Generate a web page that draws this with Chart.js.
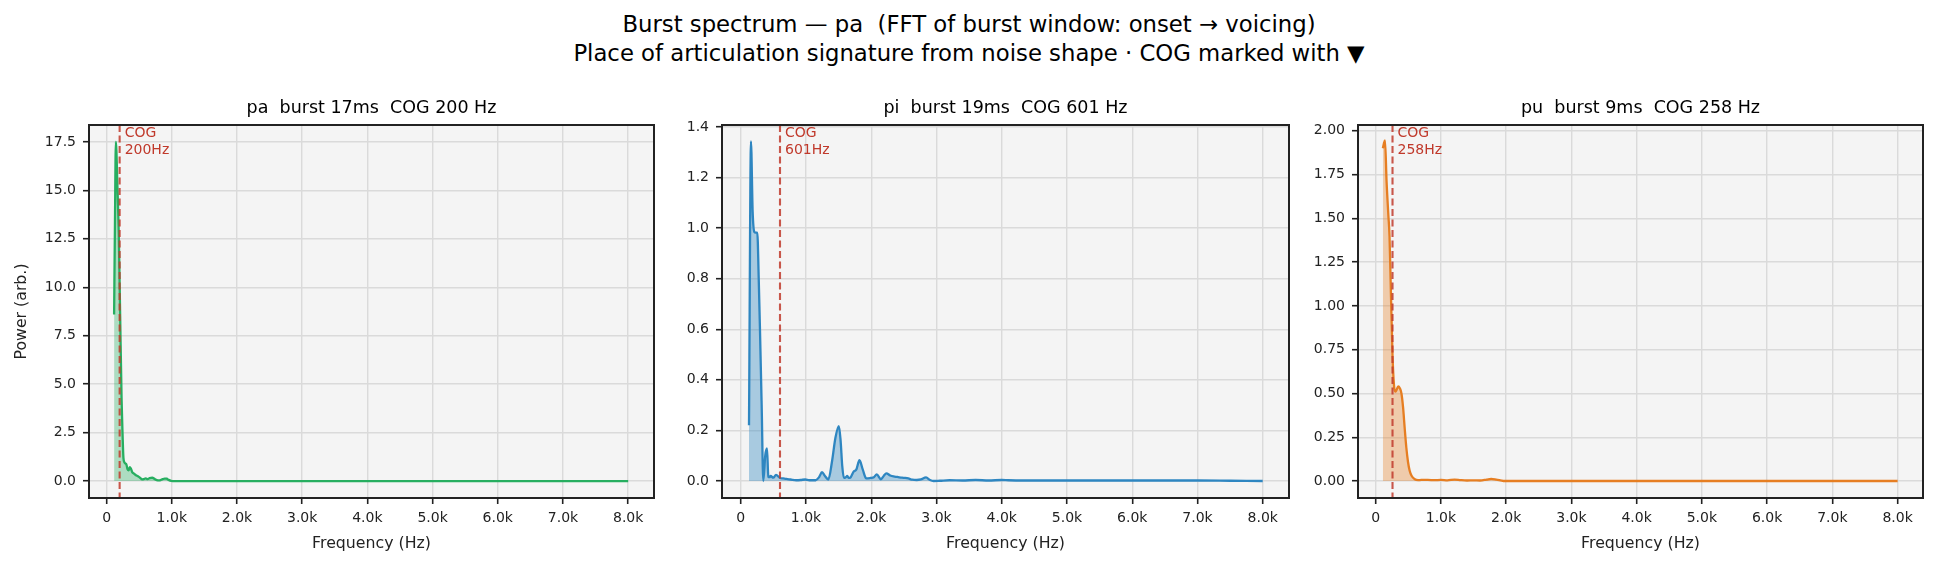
<!DOCTYPE html>
<html><head><meta charset="utf-8">
<script src="https://cdn.jsdelivr.net/npm/chart.js@4.4.1/dist/chart.umd.min.js"></script>
<style>
html,body{margin:0;padding:0;background:#fff;}
#fig{position:relative;width:1938px;height:569px;overflow:hidden;font-family:'DejaVu Sans',sans-serif;background:#fff;}
#suptitle{position:absolute;left:0;top:9.6px;width:1938px;text-align:center;font-size:22.75px;line-height:29px;color:#000;white-space:pre;}
.pane{position:absolute;top:0;height:569px;}
canvas{display:block;}
</style></head><body>
<div id="fig">
<div id="suptitle">Burst spectrum — pa  (FFT of burst window: onset → voicing)
Place of articulation signature from noise shape · COG marked with ▼</div>
<div class="pane" style="left:0px;width:680px"><canvas id="c0" width="680" height="569"></canvas></div>
<div class="pane" style="left:680px;width:620px"><canvas id="c1" width="620" height="569"></canvas></div>
<div class="pane" style="left:1300px;width:638px"><canvas id="c2" width="638" height="569"></canvas></div>
</div>
<script>
// ---- data ----
const titles = ['pa  burst 17ms  COG 200 Hz', 'pi  burst 19ms  COG 601 Hz', 'pu  burst 9ms  COG 258 Hz'];
const cogHz = [200, 601, 258];
const cogLabels = ['200Hz', '601Hz', '258Hz'];

const paFreq  = [115, 128, 142, 166, 187, 208, 230, 245, 258, 275, 290, 304, 322, 338, 355, 372, 395, 420, 450, 480, 510, 540, 570, 600, 630, 660, 700, 740, 770, 800, 830, 860, 890, 922, 950, 990, 1050, 1200, 1500, 2000, 2500, 3000, 4000, 5000, 6000, 7000, 8000];
const paPower = [8.6, 13.2, 17.5, 15.2, 12.7, 8.5, 4.2, 2.4, 1.2, 0.95, 0.9, 0.85, 0.6, 0.55, 0.72, 0.65, 0.45, 0.38, 0.3, 0.25, 0.18, 0.09, 0.1, 0.14, 0.1, 0.15, 0.17, 0.1, 0.05, 0.03, 0.05, 0.1, 0.13, 0.12, 0.06, 0.01, 0.0, 0.0, 0.0, 0.0, 0.0, 0.0, 0.0, 0.0, 0.0, 0.0, 0.0];

const piFreq  = [126, 156, 182, 207, 228, 253, 275, 294, 320, 345, 376, 402, 422, 440, 458, 498, 540, 601, 650, 700, 761, 850, 920, 987, 1050, 1148, 1200, 1245, 1290, 1342, 1400, 1450, 1503, 1530, 1555, 1581, 1610, 1632, 1655, 1677, 1729, 1770, 1819, 1870, 1923, 1987, 2040, 2084, 2148, 2190, 2232, 2290, 2342, 2400, 2471, 2520, 2568, 2630, 2697, 2760, 2839, 2900, 2955, 3050, 3200, 3400, 3600, 3800, 4000, 4100, 4300, 4600, 5000, 5500, 6000, 6500, 7000, 7500, 8000];
const piPower = [0.22, 1.343, 1.064, 0.985, 0.982, 0.982, 0.8, 0.6, 0.3, 0.0, 0.103, 0.129, 0.017, 0.015, 0.02, 0.013, 0.024, 0.012, 0.01, 0.008, 0.006, 0.003, 0.004, 0.006, 0.003, 0.003, 0.015, 0.035, 0.02, 0.006, 0.08, 0.17, 0.217, 0.16, 0.06, 0.012, 0.015, 0.02, 0.012, 0.013, 0.037, 0.045, 0.082, 0.045, 0.01, 0.012, 0.015, 0.026, 0.007, 0.02, 0.03, 0.022, 0.018, 0.016, 0.013, 0.012, 0.01, 0.005, 0.004, 0.006, 0.014, 0.004, 0.0, 0.001, 0.003, 0.002, 0.004, 0.002, 0.004, 0.003, 0.002, 0.002, 0.002, 0.002, 0.002, 0.002, 0.002, 0.001, 0.0];

const puFreq  = [110, 125, 143, 167, 194, 212, 235, 258, 280, 300, 320, 345, 370, 395, 420, 445, 470, 495, 520, 550, 600, 650, 700, 800, 900, 1000, 1100, 1210, 1300, 1400, 1500, 1600, 1700, 1770, 1850, 1960, 2200, 3000, 4000, 5000, 6000, 7000, 8000];
const puPower = [1.90, 1.925, 1.945, 1.71, 1.52, 1.40, 1.05, 0.72, 0.55, 0.51, 0.52, 0.54, 0.53, 0.50, 0.42, 0.30, 0.19, 0.11, 0.06, 0.03, 0.01, 0.005, 0.006, 0.006, 0.005, 0.006, 0.004, 0.008, 0.005, 0.003, 0.004, 0.003, 0.008, 0.012, 0.008, 0.0, 0.0, 0.0, 0.0, 0.0, 0.0, 0.0, 0.0];

const xTickValues = [0, 1000, 2000, 3000, 4000, 5000, 6000, 7000, 8000];
const xTickLabels = ['0', '1.0k', '2.0k', '3.0k', '4.0k', '5.0k', '6.0k', '7.0k', '8.0k'];
const paYTicks = [0, 2.5, 5, 7.5, 10, 12.5, 15, 17.5];
const paYLabels = ['0.0', '2.5', '5.0', '7.5', '10.0', '12.5', '15.0', '17.5'];
const piYTicks = [0, 0.2, 0.4, 0.6, 0.8, 1.0, 1.2, 1.4];
const piYLabels = ['0.0', '0.2', '0.4', '0.6', '0.8', '1.0', '1.2', '1.4'];
const puYTicks = [0, 0.25, 0.5, 0.75, 1.0, 1.25, 1.5, 1.75, 2.0];
const puYLabels = ['0.00', '0.25', '0.50', '0.75', '1.00', '1.25', '1.50', '1.75', '2.00'];

// ---- rendering ----
Chart.defaults.font.family = "'DejaVu Sans', sans-serif";
Chart.defaults.animation = false;

const FONT = "'DejaVu Sans', sans-serif";

const framePlugin = {
  id: 'frame',
  beforeDraw(chart) {
    const {ctx, chartArea: a} = chart;
    ctx.save();
    ctx.fillStyle = '#f4f4f4';
    ctx.fillRect(a.left, a.top, a.right - a.left, a.bottom - a.top);
    ctx.restore();
  },
  afterDatasetsDraw(chart, args, opts) {
    const {ctx, chartArea: a} = chart;
    const x = chart.scales.x.getPixelForValue(opts.cog);
    ctx.save();
    ctx.beginPath();
    ctx.rect(a.left, a.top, a.right - a.left, a.bottom - a.top);
    ctx.clip();
    ctx.strokeStyle = 'rgba(192,57,43,0.85)';
    ctx.lineWidth = 2.1;
    ctx.setLineDash([7, 3.5]);
    ctx.beginPath();
    ctx.moveTo(x, a.top);
    ctx.lineTo(x, a.bottom);
    ctx.stroke();
    ctx.setLineDash([]);
    ctx.fillStyle = '#c0392b';
    ctx.font = '14px ' + FONT;
    ctx.textAlign = 'left';
    ctx.textBaseline = 'alphabetic';
    ctx.fillText('COG', x + 5, a.top + 11.7);
    ctx.fillText(opts.label, x + 5, a.top + 29.3);
    ctx.restore();
  },
  afterDraw(chart) {
    const {ctx, chartArea: a} = chart;
    ctx.save();
    ctx.strokeStyle = '#222';
    ctx.lineWidth = 2;
    ctx.strokeRect(a.left, a.top, a.right - a.left, a.bottom - a.top);
    ctx.restore();
  }
};

function makeChart(id, p) {
  const pts = p.freq.map((f, i) => ({x: f, y: p.power[i]}));
  return new Chart(document.getElementById(id), {
    type: 'line',
    data: {datasets: [{
      data: pts,
      borderColor: p.color,
      backgroundColor: p.fillColor,
      fill: 'origin',
      borderWidth: 2.3,
      pointRadius: 0,
      cubicInterpolationMode: 'monotone',
      parsing: false
    }]},
    options: {
      responsive: false,
      devicePixelRatio: 1,
      animation: false,
      layout: {padding: {top: 92, right: p.padRight, left: 0, bottom: 0}},
      plugins: {
        legend: {display: false},
        tooltip: {enabled: false},
        title: {display: true, text: p.title, fullSize: false, color: '#000',
                font: {family: FONT, size: 17.5, weight: 'normal'},
                padding: {top: 5.5, bottom: 6.5}},
        frame: {cog: p.cog, label: p.cogLabel}
      },
      scales: {
        x: {
          type: 'linear', min: p.xMin, max: p.xMax, bounds: 'data',
          afterBuildTicks: s => { s.ticks = xTickValues.map(v => ({value: v})); },
          afterFit: s => { s.height = 71; },
          ticks: {callback: (v, i) => xTickLabels[i], font: {family: FONT, size: 14}, color: '#222',
                  padding: 6, maxRotation: 0, autoSkip: false},
          grid: {color: '#dadada', lineWidth: 1.4, tickLength: 6, tickColor: '#222', tickWidth: 1.6},
          border: {display: false},
          title: {display: true, text: 'Frequency (Hz)', color: '#222',
                  font: {family: FONT, size: 15.75}, padding: {top: 0, bottom: 15.5}}
        },
        y: {
          type: 'linear', min: p.yMin, max: p.yMax, bounds: 'data',
          afterBuildTicks: s => { s.ticks = p.yTicks.map(v => ({value: v})); },
          afterFit: s => { s.width = p.yWidth; },
          ticks: {callback: (v, i) => p.yLabels[i], font: {family: FONT, size: 14}, color: '#222',
                  padding: 7, autoSkip: false},
          grid: {color: '#dadada', lineWidth: 1.4, tickLength: 6, tickColor: '#222', tickWidth: 1.6},
          border: {display: false},
          title: {display: p.showYTitle, text: 'Power (arb.)', color: '#222',
                  font: {family: FONT, size: 15.75}, padding: {top: 12.5, bottom: 0}}
        }
      }
    },
    plugins: [framePlugin]
  });
}

makeChart('c0', {freq: paFreq, power: paPower, color: '#27ae60', fillColor: 'rgba(39,174,96,0.35)',
  title: titles[0], cog: cogHz[0], cogLabel: cogLabels[0], xMin: -270, xMax: 8396,
  yMin: -0.875, yMax: 18.375, yTicks: paYTicks, yLabels: paYLabels, yWidth: 89, padRight: 26, showYTitle: true});
makeChart('c1', {freq: piFreq, power: piPower, color: '#2e86c1', fillColor: 'rgba(46,134,193,0.38)',
  title: titles[1], cog: cogHz[1], cogLabel: cogLabels[1], xMin: -288, xMax: 8403,
  yMin: -0.0672, yMax: 1.4075, yTicks: piYTicks, yLabels: piYLabels, yWidth: 42, padRight: 11, showYTitle: false});
makeChart('c2', {freq: puFreq, power: puPower, color: '#e67e22', fillColor: 'rgba(230,126,34,0.35)',
  title: titles[2], cog: cogHz[2], cogLabel: cogLabels[2], xMin: -271, xMax: 8389,
  yMin: -0.097, yMax: 2.033, yTicks: puYTicks, yLabels: puYLabels, yWidth: 58, padRight: 15, showYTitle: false});
</script>
</body></html>
